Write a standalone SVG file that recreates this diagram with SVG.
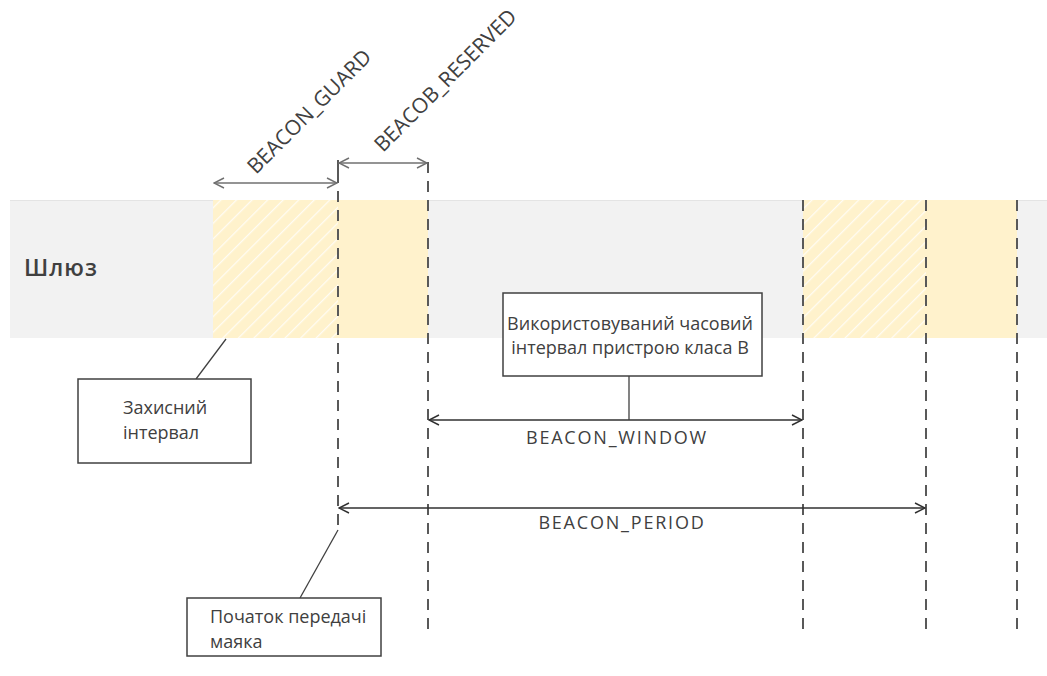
<svg xmlns="http://www.w3.org/2000/svg" width="1047" height="676" viewBox="0 0 1047 676">
<style>
.t{font-family:"Open Sans","Noto Sans","DejaVu Sans",sans-serif;fill:#404040}
.dash{stroke:#595959;stroke-width:2;stroke-dasharray:11 8;fill:none}
.arr{stroke:#303030;stroke-width:1.6;fill:none;marker-start:url(#ah);marker-end:url(#ah)}
.arrl{stroke:#707070;stroke-width:1.6;fill:none;marker-start:url(#ahl);marker-end:url(#ahl)}
.box{fill:#fff;stroke:#404040;stroke-width:1.5}
.lead{stroke:#404040;stroke-width:1.3;fill:none}
</style>
<defs>
<pattern id="hatch" width="11" height="11" patternUnits="userSpaceOnUse" patternTransform="rotate(45)">
<rect width="11" height="11" fill="#fff2cc"/>
<line x1="0" y1="0" x2="0" y2="11" stroke="#ffffff" stroke-opacity="0.8" stroke-width="2.5"/>
</pattern>
<marker id="ah" viewBox="0 0 12 12" refX="11" refY="6" markerWidth="12" markerHeight="12" markerUnits="userSpaceOnUse" orient="auto-start-reverse">
<path d="M1,1 L11,6 L1,11" fill="none" stroke="#303030" stroke-width="1.4"/>
</marker>
<marker id="ahl" viewBox="0 0 12 12" refX="11" refY="6" markerWidth="12" markerHeight="12" markerUnits="userSpaceOnUse" orient="auto-start-reverse">
<path d="M1,1 L11,6 L1,11" fill="none" stroke="#707070" stroke-width="1.4"/>
</marker>
</defs>
<rect width="1047" height="676" fill="#fff"/>
<g id="lane">
<rect x="10" y="200" width="1037" height="138" fill="#f2f2f2"/>
<line x1="10" y1="200.5" x2="1047" y2="200.5" stroke="#e4e4e4" stroke-width="1"/>
<rect x="213" y="200" width="125" height="138" fill="url(#hatch)"/>
<rect x="338" y="200" width="90" height="138" fill="#fff2cc"/>
<rect x="803" y="200" width="123" height="138" fill="url(#hatch)"/>
<rect x="926" y="200" width="91" height="138" fill="#fff2cc"/>
<text class="t" x="24" y="276" font-size="23" font-weight="600" letter-spacing="1">Шлюз</text>
</g>
<g id="markers">
<line class="dash" x1="338" y1="172" x2="338" y2="528"/>
<line x1="338" y1="160" x2="338" y2="172" stroke="#595959" stroke-width="2"/>
<line class="dash" x1="428" y1="162" x2="428" y2="633"/>
<line class="dash" x1="803" y1="200" x2="803" y2="633"/>
<line class="dash" x1="926" y1="200" x2="926" y2="633"/>
<line class="dash" x1="1017" y1="200" x2="1017" y2="633"/>
</g>
<g id="connectors">
<line class="arrl" x1="214" y1="183" x2="337" y2="183"/>
<line class="arrl" x1="339" y1="163" x2="427" y2="163"/>
<line class="arr" x1="429" y1="420" x2="802" y2="420"/>
<line class="arr" x1="339" y1="508" x2="925" y2="508"/>
<line class="lead" x1="629" y1="376" x2="629" y2="420"/>
<line class="lead" x1="226" y1="339" x2="196" y2="379"/>
<line class="lead" x1="338" y1="530" x2="300" y2="598"/>
</g>
<g id="labels">
<text class="t" font-size="21" transform="translate(256,175) rotate(-45)">BEACON_GUARD</text>
<text class="t" font-size="21" transform="translate(383,153) rotate(-45)">BEACOB_RESERVED</text>
<text class="t" x="617" y="444" font-size="18" text-anchor="middle" letter-spacing="1.8">BEACON_WINDOW</text>
<text class="t" x="622" y="529" font-size="18" text-anchor="middle" letter-spacing="1.8">BEACON_PERIOD</text>
</g>
<g id="node-window">
<rect class="box" x="503" y="293" width="259" height="83"/>
<text class="t" x="630" y="330" font-size="18" text-anchor="middle">Використовуваний часовий</text>
<text class="t" x="630" y="354" font-size="18" text-anchor="middle">інтервал пристрою класа В</text>
</g>
<g id="node-guard">
<rect class="box" x="78" y="379" width="173" height="84"/>
<text class="t" x="123" y="414" font-size="18">Захисний</text>
<text class="t" x="123" y="439" font-size="18">інтервал</text>
</g>
<g id="node-start">
<rect class="box" x="187" y="598" width="194" height="58"/>
<text class="t" x="210" y="623" font-size="18">Початок передачі</text>
<text class="t" x="210" y="648" font-size="18">маяка</text>
</g>
</svg>
